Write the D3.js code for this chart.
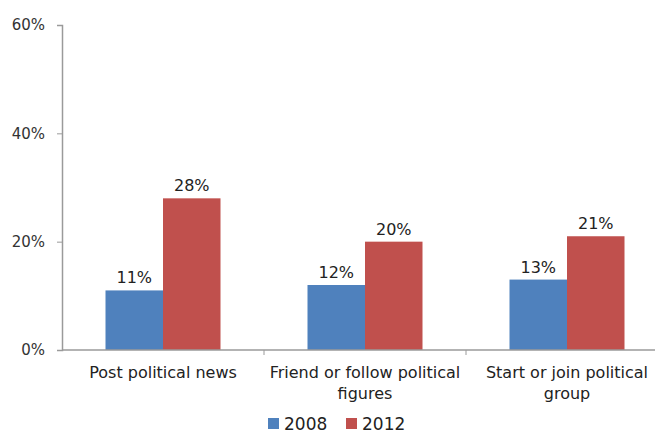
<!DOCTYPE html>
<html>
<head>
<meta charset="utf-8">
<script src="https://cdn.jsdelivr.net/npm/d3@7"></script>
<style>
  body { margin: 0; background: #fff; }
  text { font-family: "DejaVu Sans", Verdana, sans-serif; }
</style>
</head>
<body>
<div id="chart"></div>
<script>
// Data
const categories = ["Post political news", "Friend or follow political figures", "Start or join political group"];
const categoryLines = [["Post political news"], ["Friend or follow political", "figures"], ["Start or join political", "group"]];
const years = ["2008", "2012"];
const values2008 = [11, 12, 13];
const values2012 = [28, 20, 21];
const yTicks = [0, 20, 40, 60];

const width = 655, height = 433;
const margin = { top: 25, right: -13, bottom: 83, left: 62 };
const plotW = width - margin.left - margin.right;
const plotH = height - margin.top - margin.bottom;

const color = d3.scaleOrdinal().domain(years).range(["#4F81BD", "#C0504D"]);

const svg = d3.select("#chart")
  .append("svg")
    .attr("width", width)
    .attr("height", height);

const g = svg.append("g")
  .attr("transform", `translate(${margin.left},${margin.top})`);

// Scales
const x0 = d3.scaleBand()
  .domain(categories)
  .range([0, plotW])
  .padding(0);

const barW = 57.5;
const x1 = d3.scaleBand()
  .domain(years)
  .range([0, barW * 2]);

const y = d3.scaleLinear()
  .domain([0, 60])
  .range([plotH, 0]);

// Y axis
const yAxis = g.append("g")
  .call(d3.axisLeft(y).tickValues(yTicks).tickFormat(d => d + "%").tickSizeOuter(0).tickSize(5).tickPadding(12));
yAxis.select(".domain").attr("stroke", "#9a9a9a").attr("stroke-width", 1.5);
yAxis.selectAll(".tick line").attr("stroke", "#9a9a9a");
yAxis.selectAll(".tick text")
  .attr("fill", "#333")
  .style("font-size", "15px")
  .style("font-family", "DejaVu Sans, Verdana, sans-serif");

// Bars
const rows = categories.map((c, i) => ({ cat: c, vals: [values2008[i], values2012[i]] }));

const groups = g.selectAll(".grp")
  .data(rows)
  .enter()
  .append("g")
    .attr("transform", d => `translate(${x0(d.cat) + x0.bandwidth() / 2 - barW},0)`);

groups.selectAll("rect")
  .data(d => years.map((yr, j) => ({ yr, v: d.vals[j] })))
  .enter()
  .append("rect")
    .attr("x", d => x1(d.yr))
    .attr("y", d => y(d.v))
    .attr("width", x1.bandwidth())
    .attr("height", d => plotH - y(d.v))
    .attr("fill", d => color(d.yr));

groups.selectAll(".lbl")
  .data(d => years.map((yr, j) => ({ yr, v: d.vals[j] })))
  .enter()
  .append("text")
    .attr("x", d => x1(d.yr) + x1.bandwidth() / 2)
    .attr("y", d => y(d.v) - 7)
    .attr("text-anchor", "middle")
    .attr("fill", "#222")
    .style("font-size", "16px")
    .text(d => d.v + "%");

// X axis
const xAxis = g.append("g")
  .attr("transform", `translate(0,${plotH})`);
xAxis.append("line")
  .attr("x1", 0).attr("x2", plotW)
  .attr("stroke", "#9a9a9a").attr("stroke-width", 1.5);
xAxis.selectAll(".sep")
  .data(categories.slice(1))
  .enter()
  .append("line")
    .attr("x1", d => x0(d)).attr("x2", d => x0(d))
    .attr("y1", 0).attr("y2", 5)
    .attr("stroke", "#9a9a9a");

// Category labels
categories.forEach((c, i) => {
  const t = xAxis.append("text")
    .attr("x", x0(c) + x0.bandwidth() / 2)
    .attr("y", 28)
    .attr("text-anchor", "middle")
    .attr("fill", "#222")
    .style("font-size", "16px");
  categoryLines[i].forEach((line, k) => {
    t.append("tspan")
      .attr("x", x0(c) + x0.bandwidth() / 2)
      .attr("dy", k === 0 ? 0 : 21)
      .text(line);
  });
});

// Legend
const legend = svg.append("g")
  .attr("transform", "translate(268,430)");
const legendX = [0, 78];
years.forEach((yr, i) => {
  legend.append("rect")
    .attr("x", legendX[i])
    .attr("y", -12)
    .attr("width", 11)
    .attr("height", 11)
    .attr("fill", color(yr));
  legend.append("text")
    .attr("x", legendX[i] + 16)
    .attr("y", 0)
    .attr("fill", "#222")
    .style("font-size", "17px")
    .text(yr);
});
</script>
</body>
</html>
